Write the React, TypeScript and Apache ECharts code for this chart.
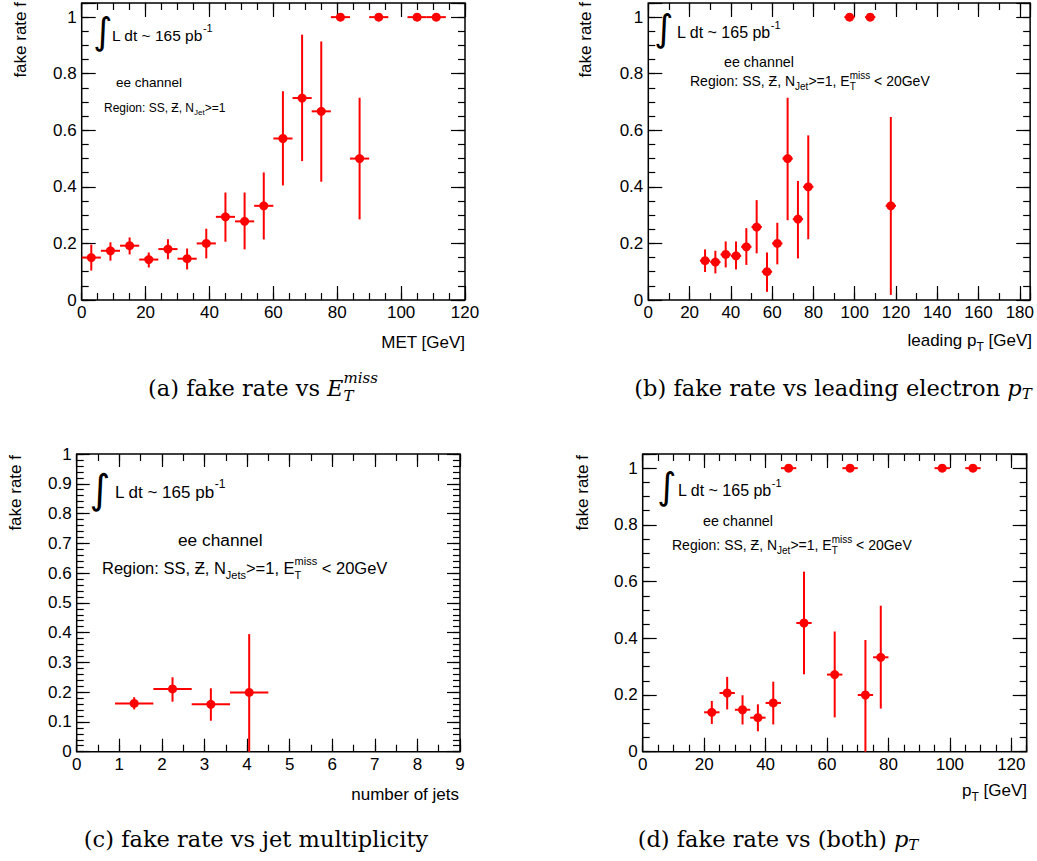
import React, { useEffect, useRef } from "react";
import * as echarts from "echarts";

// ---------------- data ----------------
// (a) fake rate vs MET
const metX = [3, 9, 15, 21, 27, 33, 39, 45, 51, 57, 63, 69, 75, 81, 87, 93, 105, 111];
const metRate = [0.15, 0.174, 0.192, 0.143, 0.18, 0.146, 0.2, 0.294, 0.278, 0.333, 0.571, 0.714, 0.667, 1, 0.5, 1, 1, 1];
const metLow = [0.104, 0.139, 0.161, 0.115, 0.144, 0.108, 0.147, 0.206, 0.179, 0.214, 0.405, 0.491, 0.418, 1, 0.285, 1, 1, 1];
const metHigh = [0.196, 0.204, 0.221, 0.168, 0.215, 0.182, 0.252, 0.38, 0.38, 0.451, 0.738, 0.938, 0.914, 1, 0.715, 1, 1, 1];
const metHalfBin = 3;

// (b) fake rate vs leading electron pT
const leadX = [27.5, 32.5, 37.5, 42.5, 47.5, 52.5, 57.5, 62.5, 67.5, 72.5, 77.5, 97.5, 107.5, 117.5];
const leadRate = [0.139, 0.134, 0.161, 0.156, 0.188, 0.258, 0.1, 0.2, 0.5, 0.286, 0.4, 1, 1, 0.333];
const leadLow = [0.099, 0.094, 0.115, 0.108, 0.124, 0.165, 0.029, 0.126, 0.282, 0.147, 0.215, 1, 1, 0.018];
const leadHigh = [0.179, 0.174, 0.207, 0.207, 0.254, 0.353, 0.168, 0.273, 0.715, 0.421, 0.582, 1, 1, 0.647];
const leadHalfBin = 2.5;

// (c) fake rate vs jet multiplicity
const jetX = [1.35, 2.25, 3.15, 4.05];
const jetRate = [0.162, 0.211, 0.159, 0.199];
const jetLow = [0.142, 0.168, 0.104, 0];
const jetHigh = [0.183, 0.25, 0.213, 0.395];
const jetHalfBin = 0.45;

// (d) fake rate vs (both) pT
const bothX = [22.5, 27.5, 32.5, 37.5, 42.5, 47.5, 52.5, 62.5, 67.5, 72.5, 77.5, 97.5, 107.5];
const bothRate = [0.139, 0.207, 0.148, 0.12, 0.172, 1, 0.454, 0.272, 1, 0.2, 0.333, 1, 1];
const bothLow = [0.098, 0.149, 0.096, 0.072, 0.096, 1, 0.273, 0.121, 1, 0, 0.152, 1, 1];
const bothHigh = [0.179, 0.264, 0.199, 0.167, 0.247, 1, 0.635, 0.424, 1, 0.394, 0.515, 1, 1];
const bothHalfBin = 2.5;

// axis ranges / tick steps
const xRanges = [[0, 120], [0, 185], [0, 9], [0, 125]];
const xSteps = [[20, 5], [20, 10], [1, 0.5], [20, 5]];
const yRanges = [[0, 1.05], [0, 1.05], [0, 1], [0, 1.05]];
const ySteps = [[0.2, 0.05], [0.2, 0.05], [0.1, 0.02], [0.2, 0.05]];

// ---------------- layout / style ----------------
const SANS = '"Liberation Sans", Arial, sans-serif';
const SERIF = '"DejaVu Serif", serif';
const RED = "#ff0000";
const CAP = 22.5;
const BOXES = [
  { left: 81.7, top: 3, width: 383.3, height: 297 },
  { left: 648.3, top: 3, width: 383.4, height: 297 },
  { left: 76.7, top: 454, width: 383.3, height: 297.7 },
  { left: 642.7, top: 454, width: 384, height: 297.7 },
];

let _ctx: CanvasRenderingContext2D | null = null;
function measure(t: string, size: number, family: string, style = "normal") {
  if (!_ctx) _ctx = document.createElement("canvas").getContext("2d");
  _ctx!.font = `${style} ${size}px ${family}`;
  return _ctx!.measureText(t).width;
}

type Seg = { t: string; s: number; dy?: number; it?: boolean; stack?: boolean; sp?: number };
function mathText(x: number, y: number, segs: Seg[], family: string, align: "left" | "center" | "right" = "left") {
  const pos: number[] = [];
  let cur = 0;
  let prevStart = 0;
  segs.forEach((sg) => {
    const st = sg.it ? "italic" : "normal";
    const w = measure(sg.t, sg.s, family, st);
    if (sg.stack) {
      pos.push(prevStart);
      cur = Math.max(cur, prevStart + w);
    } else {
      if (sg.sp) cur += sg.sp * measure(" ", sg.s, family, st);
      pos.push(cur);
      prevStart = cur;
      cur += w;
    }
  });
  const x0 = align === "left" ? x : align === "center" ? x - cur / 2 : x - cur;
  return segs.map((sg, i) => ({
    type: "text",
    x: x0 + pos[i],
    y: y + (sg.dy || 0),
    silent: true,
    z: 20,
    style: {
      text: sg.t,
      fontSize: sg.s,
      fontFamily: family,
      fontStyle: sg.it ? "italic" : "normal",
      fill: "#000",
      align: "left",
      textAlign: "left",
      verticalAlign: "middle",
      textVerticalAlign: "middle",
    },
  }));
}

function plainText(x: number, y: number, text: string, size: number, family: string, align = "left", rotation = 0) {
  return {
    type: "text",
    x,
    y,
    rotation,
    silent: true,
    z: 20,
    style: { text, fontSize: size, fontFamily: family, fill: "#000", align, textAlign: align, verticalAlign: "middle", textVerticalAlign: "middle" },
  };
}

const isMult = (v: number, step: number) => Math.abs(v / step - Math.round(v / step)) < 1e-6;
const fmt = (v: number) => String(+v.toFixed(2));

function axis(gi: number, pos: string, range: number[], step: number, len: number, labels: boolean, major: number) {
  const horizontal = pos === "top" || pos === "bottom";
  return {
    gridIndex: gi,
    type: "value",
    position: pos,
    min: range[0],
    max: range[1],
    interval: step,
    silent: true,
    axisLine: { show: false, onZero: false },
    axisTick: { show: true, inside: true, length: len, lineStyle: { color: "#000", width: 1.2 } },
    axisLabel: labels
      ? {
          show: true,
          margin: horizontal ? 4 : 5,
          fontSize: 17,
          color: "#000",
          fontFamily: SANS,
          formatter: (v: number) => (isMult(v, major) ? fmt(v) : ""),
        }
      : { show: false },
    splitLine: { show: false },
    minorTick: { show: false },
  };
}

function errSeries(xIdx: number, yIdx: number, xs: number[], ys: number[], lo: number[], hi: number[], half: number) {
  return {
    type: "custom",
    xAxisIndex: xIdx,
    yAxisIndex: yIdx,
    z: 10,
    clip: false,
    encode: { x: 0, y: 1 },
    data: xs.map((x, i) => [x, ys[i], lo[i], hi[i], half]),
    renderItem: (_p: any, api: any) => {
      const x = api.value(0);
      const y = api.value(1);
      const l = api.value(2);
      const h = api.value(3);
      const hw = api.value(4);
      const c = api.coord([x, y]);
      const a = api.coord([x - hw, y]);
      const b = api.coord([x + hw, y]);
      const t = api.coord([x, h]);
      const d = api.coord([x, l]);
      const ls = { stroke: RED, lineWidth: 2 };
      return {
        type: "group",
        children: [
          { type: "line", shape: { x1: a[0], y1: c[1], x2: b[0], y2: c[1] }, style: ls },
          { type: "line", shape: { x1: c[0], y1: t[1], x2: c[0], y2: d[1] }, style: ls },
          { type: "circle", shape: { cx: c[0], cy: c[1], r: 4.5 }, style: { fill: RED } },
        ],
      };
    },
  };
}

function lumi(ix: number, iy: number, tx: number, ty: number, s: number, intSize: number) {
  return [
    plainText(ix, iy, "∫", intSize, '"DejaVu Sans", sans-serif', "center"),
    ...mathText(tx, ty, [{ t: "L dt ~ 165 pb", s }, { t: "-1", s: Math.round(s * 0.7), dy: -s * 0.45 }], SANS),
  ];
}

function region(x: number, y: number, s: number, jet: string, withMet: boolean) {
  const ss = Math.round(s * 0.68);
  const segs: Seg[] = [
    { t: "Region: SS, Ƶ, N", s },
    { t: jet, s: ss, dy: s * 0.4 },
  ];
  if (withMet) {
    segs.push({ t: ">=1, E", s });
    segs.push({ t: "miss", s: ss, dy: -s * 0.42 });
    segs.push({ t: "T", s: ss, dy: s * 0.42, stack: true });
    segs.push({ t: "< 20GeV", s, sp: 1 });
  } else {
    segs.push({ t: ">=1", s });
  }
  return mathText(x, y, segs, SANS);
}

function buildOption() {
  const grids: any[] = [];
  const xAxes: any[] = [];
  const yAxes: any[] = [];
  const xIdx: number[] = [];
  const yIdx: number[] = [];
  BOXES.forEach((b, gi) => {
    grids.push({ ...b, show: true, borderColor: "#000", borderWidth: 1.5, backgroundColor: "transparent" });
    const [xM, xm] = xSteps[gi];
    const [yM, ym] = ySteps[gi];
    const majLen = gi === 2 ? 13 : 14;
    xIdx.push(xAxes.length);
    xAxes.push(axis(gi, "bottom", xRanges[gi], xM, majLen, true, xM));
    xAxes.push(axis(gi, "bottom", xRanges[gi], xm, 7, false, xM));
    xAxes.push(axis(gi, "top", xRanges[gi], xM, majLen, false, xM));
    xAxes.push(axis(gi, "top", xRanges[gi], xm, 7, false, xM));
    yIdx.push(yAxes.length);
    yAxes.push(axis(gi, "left", yRanges[gi], yM, majLen, true, yM));
    yAxes.push(axis(gi, "left", yRanges[gi], ym, 7, false, yM));
    yAxes.push(axis(gi, "right", yRanges[gi], yM, majLen, false, yM));
    yAxes.push(axis(gi, "right", yRanges[gi], ym, 7, false, yM));
  });

  const series = [
    errSeries(xIdx[0], yIdx[0], metX, metRate, metLow, metHigh, metHalfBin),
    errSeries(xIdx[1], yIdx[1], leadX, leadRate, leadLow, leadHigh, leadHalfBin),
    errSeries(xIdx[2], yIdx[2], jetX, jetRate, jetLow, jetHigh, jetHalfBin),
    errSeries(xIdx[3], yIdx[3], bothX, bothRate, bothLow, bothHigh, bothHalfBin),
  ];

  const R = Math.PI / 2;
  const elements: any[] = [
    // y titles
    plainText(20, 2, "fake rate f", 17, SANS, "right", R),
    plainText(585, 2, "fake rate f", 17, SANS, "right", R),
    plainText(15, 455, "fake rate f", 17, SANS, "right", R),
    plainText(582, 455, "fake rate f", 17, SANS, "right", R),
    // x titles
    plainText(465, 342, "MET [GeV]", 17, SANS, "right"),
    ...mathText(1032, 340, [{ t: "leading p", s: 17 }, { t: "T", s: 12, dy: 7 }, { t: "[GeV]", s: 17, sp: 1 }], SANS, "right"),
    plainText(459, 794, "number of jets", 17, SANS, "right"),
    ...mathText(1027, 790, [{ t: "p", s: 17 }, { t: "T", s: 12, dy: 7 }, { t: "[GeV]", s: 17, sp: 1 }], SANS, "right"),
    // annotations (a)
    ...lumi(103, 31, 112, 35, 15.5, 37),
    plainText(116, 82, "ee channel", 13.5, SANS),
    ...region(104, 108, 12, "Jet", false),
    // (b)
    ...lumi(664, 28, 677, 32, 16, 37),
    plainText(724, 62, "ee channel", 14.3, SANS),
    ...region(690, 81, 14, "Jet", true),
    // (c)
    ...lumi(100, 489, 115, 492, 17, 40),
    plainText(178, 540, "ee channel", 17.3, SANS),
    ...region(102, 568, 16.5, "Jets", true),
    // (d)
    ...lumi(667, 486, 678, 490, 16, 37),
    plainText(703, 521, "ee channel", 14.3, SANS),
    ...region(672, 545, 14, "Jet", true),
    // captions
    ...mathText(263, 388, [
      { t: "(a) fake rate vs", s: CAP },
      { t: "E", s: CAP, it: true, sp: 1 },
      { t: "miss", s: 15, it: true, dy: -10 },
      { t: "T", s: 15, it: true, dy: 8, stack: true },
    ], SERIF, "center"),
    ...mathText(833, 388, [
      { t: "(b) fake rate vs leading electron", s: CAP },
      { t: "p", s: CAP, it: true, sp: 1 },
      { t: "T", s: 15, it: true, dy: 6 },
    ], SERIF, "center"),
    ...mathText(256, 839, [{ t: "(c) fake rate vs jet multiplicity", s: CAP }], SERIF, "center"),
    ...mathText(778, 839, [
      { t: "(d) fake rate vs (both)", s: CAP },
      { t: "p", s: CAP, it: true, sp: 1 },
      { t: "T", s: 15, it: true, dy: 6 },
    ], SERIF, "center"),
  ];

  return {
    animation: false,
    backgroundColor: "#fff",
    grid: grids,
    xAxis: xAxes,
    yAxis: yAxes,
    series,
    graphic: { elements },
  };
}

export default function App() {
  const ref = useRef<HTMLDivElement>(null);
  useEffect(() => {
    const chart = echarts.init(ref.current!, null, { renderer: "svg" });
    chart.setOption(buildOption() as any);
    return () => chart.dispose();
  }, []);
  return (
    <div
      ref={ref}
      style={{ position: "absolute", left: 0, top: 0, width: 1037, height: 861, background: "#fff" }}
    />
  );
}
